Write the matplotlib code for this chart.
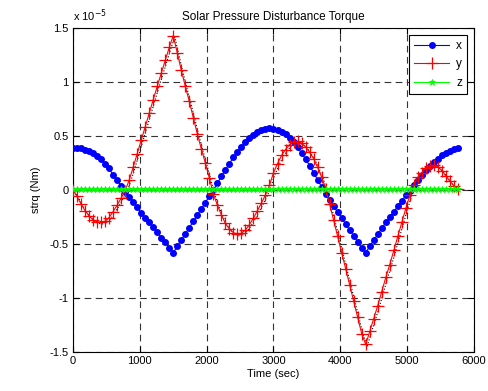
import numpy as np
import matplotlib
matplotlib.use("Agg")
import matplotlib.pyplot as plt
import matplotlib.transforms as mtransforms

plt.rcParams['font.family'] = ['Liberation Sans', 'DejaVu Sans']

# time grid, one sample per minute over one orbit
t = np.arange(0, 5761, 60)

# torque components, in units of 1e-5 Nm
x_trq = [0.39, 0.39, 0.385, 0.375, 0.36, 0.34, 0.315, 0.285, 0.245, 0.20,
         0.14, 0.09, 0.04, -0.015, -0.065, -0.115, -0.16, -0.21, -0.255, -0.30,
         -0.345, -0.39, -0.44, -0.485, -0.535, -0.58, -0.522, -0.464, -0.406, -0.348,
         -0.29, -0.232, -0.174, -0.116, -0.058, 0.0, 0.063, 0.126, 0.187, 0.245,
         0.301, 0.353, 0.401, 0.443, 0.481, 0.512, 0.537, 0.556, 0.567, 0.572,
         0.569, 0.559, 0.540, 0.514, 0.481, 0.441, 0.394, 0.342, 0.286, 0.226,
         0.162, 0.096, 0.028, -0.035, -0.095, -0.15, -0.205, -0.26, -0.315, -0.37,
         -0.425, -0.48, -0.535, -0.58, -0.52, -0.465, -0.41, -0.355, -0.30, -0.25,
         -0.20, -0.15, -0.10, -0.05, -0.005, 0.045, 0.095, 0.14, 0.185, 0.225,
         0.26, 0.29, 0.32, 0.345, 0.365, 0.38, 0.39]

y_trq = [0.0, -0.06, -0.13, -0.19, -0.24, -0.275, -0.295, -0.30, -0.29, -0.255,
         -0.20, -0.14, -0.075, -0.005, 0.09, 0.21, 0.335, 0.46, 0.585, 0.71,
         0.835, 0.96, 1.08, 1.20, 1.32, 1.43, 1.27, 1.11, 0.96, 0.82,
         0.67, 0.52, 0.38, 0.25, 0.11, -0.035, -0.14, -0.23, -0.31, -0.36,
         -0.395, -0.41, -0.40, -0.37, -0.32, -0.26, -0.19, -0.12, -0.045, 0.045,
         0.16, 0.245, 0.32, 0.375, 0.42, 0.445, 0.45, 0.435, 0.40, 0.35,
         0.29, 0.21, 0.12, 0.01, -0.13, -0.28, -0.43, -0.58, -0.73, -0.88,
         -1.03, -1.18, -1.33, -1.43, -1.31, -1.19, -1.07, -0.94, -0.81, -0.69,
         -0.56, -0.43, -0.30, -0.17, -0.05, 0.05, 0.12, 0.16, 0.205, 0.225,
         0.23, 0.215, 0.18, 0.13, 0.08, 0.04, 0.01]

z_trq = [0.012, 0.013, 0.012, 0.011, 0.012, 0.013, 0.012, 0.011, 0.012, 0.013,
         0.012, 0.011, 0.012, 0.013, 0.012, 0.011, 0.012, 0.013, 0.012, 0.011,
         0.012, 0.013, 0.012, 0.011, 0.012, 0.013, 0.012, 0.011, 0.012, 0.013,
         0.012, 0.011, 0.012, 0.013, 0.012, 0.011, 0.012, 0.013, 0.012, 0.011,
         0.012, 0.013, 0.012, 0.011, 0.012, 0.013, 0.012, 0.011, 0.012, 0.013,
         0.012, 0.011, 0.012, 0.013, 0.012, 0.011, 0.012, 0.013, 0.012, 0.011,
         0.012, 0.013, 0.012, 0.011, 0.012, 0.013, 0.012, 0.011, 0.012, 0.013,
         0.012, 0.011, 0.012, 0.013, 0.012, 0.011, 0.012, 0.013, 0.012, 0.011,
         0.012, 0.013, 0.012, 0.011, 0.012, 0.013, 0.012, 0.011, 0.012, 0.013,
         0.012, 0.011, 0.012, 0.013, 0.012, 0.011, 0.012]

xticks = [0, 1000, 2000, 3000, 4000, 5000, 6000]
yticks = [-1.5, -1, -0.5, 0, 0.5, 1, 1.5]
ytick_labels = ['-1.5', '-1', '-0.5', '0', '0.5', '1', '1.5']

fig = plt.figure(figsize=(4.88, 3.91), dpi=100)
ax = fig.add_axes([0.1496, 0.0997, 0.8217, 0.8287])

# thin dotted shadow under the red and green traces
shadow = mtransforms.offset_copy(ax.transData, fig=fig, x=1.5, y=-1.5, units='dots')
ax.plot(t, y_trq, ':', color='k', lw=0.8, transform=shadow, zorder=2)
ax.plot(t, z_trq, ':', color='k', lw=0.9, transform=shadow, zorder=2)

ax.plot(t, x_trq, '-', color=(0, 0, 1), lw=0.8, marker='o', ms=4,
        mec=(0, 0, 1), label='x', zorder=3)
ax.plot(t, y_trq, '-', color=(1, 0, 0), lw=0.8, marker='+', ms=8, mew=0.9,
        label='y', zorder=4)
ax.plot(t, z_trq, '-', color=(0, 1, 0), lw=0.8, marker='*', ms=5, mew=0.6,
        label='z', zorder=5)

ax.set_xlim(0, 6000)
ax.set_ylim(-1.5, 1.5)
ax.set_xticks(xticks)
ax.set_yticks(yticks)
ax.set_yticklabels(ytick_labels)
ax.tick_params(direction='in', top=True, right=True, labelsize=8, length=4,
               width=0.8, pad=3)
ax.grid(True, color='0.2', linestyle=(0, (6, 4)), lw=0.8)
for sp in ax.spines.values():
    sp.set_linewidth(0.8)

ax.set_title('Solar Pressure Disturbance Torque', fontsize=8.5, pad=6)
ax.set_xlabel('Time (sec)', fontsize=8, labelpad=2)
ax.set_ylabel('strq (Nm)', fontsize=8, labelpad=6)
ax.text(0.0, 1.012, r'x 10$^{-5}$', transform=ax.transAxes, fontsize=8,
        ha='left', va='bottom')

leg = ax.legend(loc='upper right', fontsize=8.5, handlelength=3.0,
                handletextpad=0.6, markerfirst=True, fancybox=False,
                edgecolor='k', framealpha=1, borderaxespad=0.6,
                labelspacing=0.55, borderpad=0.4)
leg.get_frame().set_linewidth(0.8)

fig.savefig('out.png', dpi=100)
